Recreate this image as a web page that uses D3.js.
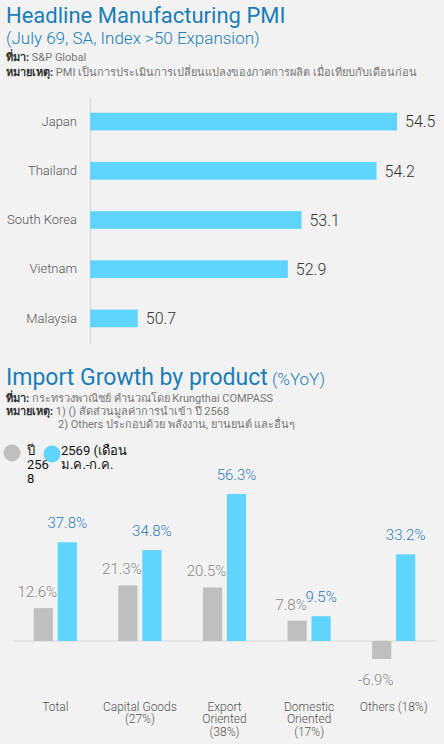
<!DOCTYPE html>
<html><head><meta charset="utf-8">
<script src="https://cdn.jsdelivr.net/npm/d3@7"></script>
<style>
html,body{margin:0;padding:0;background:#f2f2f2;}
svg{display:block;font-family:Roboto,"Noto Sans",sans-serif;}
</style></head>
<body><svg id="c" width="444" height="744"></svg>
<script>
// ---- data: PMI chart ----
const countries = ["Japan","Thailand","South Korea","Vietnam","Malaysia"];
const pmiValues = [54.5, 54.2, 53.1, 52.9, 50.7];

// ---- data: import growth chart ----
const productLines = [["Total"],["Capital Goods","(27%)"],["Export","Oriented","(38%)"],["Domestic","Oriented","(17%)"],["Others (18%)"]];
const seriesNames = ["2568","2569"];
const growth2568 = [12.6, 21.3, 20.5, 7.8, -6.9];
const growth2569 = [37.8, 34.8, 56.3, 9.5, 33.2];

const svg = d3.select("#c");
const BLUE = "#5fd4fc", GREY = "#bfbfbf", TITLE = "#1b7db6";
const fmt = v => v.toFixed(1);

svg.append("rect").attr("width",444).attr("height",744).attr("fill","#f2f2f2");

// ---- header 1 ----
svg.append("text").attr("x",6).attr("y",22.5).attr("fill",TITLE).attr("font-size",22)
  .text("Headline Manufacturing PMI");
svg.append("text").attr("x",6).attr("y",44).attr("fill",TITLE).attr("font-size",17).attr("font-weight",300)
  .text("(July 69, SA, Index >50 Expansion)");
const s1 = svg.append("text").attr("x",6).attr("y",61).attr("font-size",11).attr("fill","#777");
s1.append("tspan").attr("font-weight",700).attr("fill","#333").text("ที่มา:");
s1.append("tspan").text(" S&P Global");
const n1 = svg.append("text").attr("x",6).attr("y",76).attr("font-size",11).attr("fill","#777");
n1.append("tspan").attr("font-weight",700).attr("fill","#333").text("หมายเหตุ:");
n1.append("tspan").text(" PMI เป็นการประเมินการเปลี่ยนแปลงของภาคการผลิต เมื่อเทียบกับเดือนก่อน");

// ---- PMI horizontal bars ----
const xP = d3.scaleLinear().domain([50, 54.5]).range([90, 397]);
const yP = d3.scaleBand().domain(countries).range([97, 343]).paddingInner(0.64).paddingOuter(0.32);

const ax = svg.append("g").attr("transform","translate(90,0)")
  .call(d3.axisLeft(yP).tickSize(0).tickPadding(13));
ax.select(".domain").attr("stroke","#d4d4d4");
ax.selectAll("text").attr("font-size",13).attr("fill","#555").attr("font-family","Roboto,sans-serif").attr("font-weight",300);

svg.append("g").selectAll("rect").data(countries).join("rect")
  .attr("x", xP(50)).attr("y", d => yP(d))
  .attr("width", (d,i) => xP(pmiValues[i]) - xP(50))
  .attr("height", yP.bandwidth()).attr("fill", BLUE);
svg.append("g").selectAll("text").data(countries).join("text")
  .attr("x", (d,i) => xP(pmiValues[i]) + 8)
  .attr("y", d => yP(d) + yP.bandwidth()/2)
  .attr("dy","0.36em").attr("font-size",16).attr("font-weight",300).attr("fill","#333")
  .text((d,i) => fmt(pmiValues[i]));

// ---- header 2 ----
const t2 = svg.append("text").attr("x",6).attr("y",385).attr("fill",TITLE).attr("font-size",23);
t2.append("tspan").text("Import Growth by product");
t2.append("tspan").attr("font-size",17).attr("font-weight",300).text(" (%YoY)");
const s2 = svg.append("text").attr("x",6).attr("y",402).attr("font-size",11).attr("fill","#777");
s2.append("tspan").attr("font-weight",700).attr("fill","#333").text("ที่มา:");
s2.append("tspan").text(" กระทรวงพาณิชย์ คำนวณโดย Krungthai COMPASS");
const n2 = svg.append("text").attr("x",6).attr("y",415).attr("font-size",11).attr("fill","#777");
n2.append("tspan").attr("font-weight",700).attr("fill","#333").text("หมายเหตุ:");
n2.append("tspan").text(" 1) () สัดส่วนมูลค่าการนำเข้า ปี 2568");
svg.append("text").attr("x",58).attr("y",428).attr("font-size",11).attr("fill","#777")
  .text("2) Others ประกอบด้วย พลังงาน, ยานยนต์ และอื่นๆ");

// ---- legend ----
const legend = [
  {c:GREY, cx:12, tx:27, lines:["ปี","256","8"]},
  {c:BLUE, cx:52, tx:61, lines:["2569 (เดือน","ม.ค.-ก.ค."]}
];
legend.forEach((l,i) => {
  svg.append("circle").attr("cx",l.cx).attr("cy",453 + i).attr("r",8.5).attr("fill",l.c);
  const t = svg.append("text").attr("x",l.tx).attr("y",455).attr("font-size",13).attr("fill","#111");
  l.lines.forEach((s,j) => t.append("tspan").attr("x",l.tx).attr("dy", j ? 14 : 0).text(s));
});

// ---- grouped bars ----
const cats = productLines.map(d => d.join(" "));
const x0 = d3.scaleBand().domain(cats).range([13, 436]).paddingInner(0.49).paddingOuter(0.245);
const x1 = d3.scaleBand().domain(seriesNames).range([0, x0.bandwidth()]).paddingInner(0.2);
const yG = d3.scaleLinear().domain([0, 56.3]).range([641, 494]);

svg.append("line").attr("x1",13).attr("x2",436).attr("y1",yG(0)).attr("y2",yG(0))
  .attr("stroke","#d6d6d6").attr("stroke-width",1);

const series = [
  {name:"2568", vals:growth2568, fill:GREY, lab:"#888", dx:-6, gap:11},
  {name:"2569", vals:growth2569, fill:BLUE, lab:"#2f7ab8", dx:0, gap:14}
];
series.forEach(s => {
  svg.append("g").selectAll("rect").data(cats).join("rect")
    .attr("x", d => x0(d) + x1(s.name))
    .attr("y", (d,i) => yG(Math.max(0, s.vals[i])))
    .attr("width", x1.bandwidth())
    .attr("height", (d,i) => Math.abs(yG(s.vals[i]) - yG(0)))
    .attr("fill", s.fill);
  svg.append("g").selectAll("text").data(cats).join("text")
    .attr("x", d => x0(d) + x1(s.name) + x1.bandwidth()/2 + s.dx)
    .attr("y", (d,i) => s.vals[i] >= 0 ? yG(s.vals[i]) - s.gap : yG(s.vals[i]) + 26)
    .attr("text-anchor","middle").attr("font-size",15).attr("font-weight",300).attr("fill", s.lab)
    .text((d,i) => fmt(s.vals[i]) + "%");
});

// category labels
const xl = svg.append("g").attr("transform","translate(0,698)")
  .call(d3.axisBottom(x0).tickSize(0).tickPadding(0));
xl.select(".domain").remove();
xl.selectAll("text").each(function(d,i){
  const t = d3.select(this).text(null).attr("y",0).attr("dy",null)
    .attr("font-size",12).attr("fill","#555").attr("font-family","Roboto,sans-serif").attr("font-weight",300);
  productLines[i].forEach((s,j) => t.append("tspan").attr("x",0).attr("y", 12.5 + j*12.7).text(s));
});
</script></body></html>
